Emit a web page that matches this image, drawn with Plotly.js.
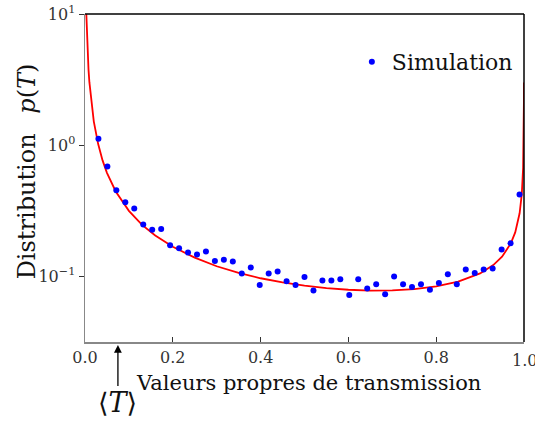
<!DOCTYPE html>
<html>
<head>
<meta charset="utf-8">
<script src="https://cdn.plot.ly/plotly-3.0.1.min.js"></script>
<style>html,body{margin:0;padding:0;background:#fff;}#chart{width:535px;height:421px;}</style>
</head>
<body>
<div id="chart"></div>
<script>
// Simulation histogram (bin centres, density)
var simT = [0.0306,0.0510,0.0714,0.0918,0.1122,0.1327,0.1531,0.1735,0.1939,0.2143,
            0.2347,0.2551,0.2755,0.2959,0.3163,0.3367,0.3571,0.3776,0.3980,0.4184,
            0.4388,0.4592,0.4796,0.5000,0.5204,0.5408,0.5612,0.5816,0.6020,0.6224,
            0.6429,0.6633,0.6837,0.7041,0.7245,0.7449,0.7653,0.7857,0.8061,0.8265,
            0.8469,0.8673,0.8878,0.9082,0.9286,0.9490,0.9694,0.9898];
var simP = [1.12,0.687,0.453,0.367,0.329,0.249,0.227,0.230,0.173,0.164,
            0.152,0.147,0.155,0.131,0.134,0.130,0.105,0.117,0.086,0.105,
            0.109,0.092,0.086,0.099,0.078,0.093,0.093,0.095,0.072,0.095,
            0.081,0.087,0.073,0.100,0.087,0.083,0.087,0.079,0.089,0.104,
            0.087,0.113,0.106,0.113,0.115,0.160,0.179,0.421];
// Theory curve
var curveT = [0.003,0.004,0.006,0.008,0.01,0.015,0.02,0.03,0.04,0.05,0.07,0.1,0.13,0.16,
              0.2,0.25,0.3,0.35,0.4,0.45,0.5,0.55,0.6,0.65,0.7,0.75,0.8,0.85,0.9,0.93,
              0.95,0.97,0.98,0.99,0.995,0.998,0.999,0.9995,0.9998,0.9999];
var curveP = [10.02,7.52,5.02,3.77,3.02,2.02,1.52,1.02,0.766,0.616,0.444,0.316,0.247,0.205,
              0.168,0.139,0.1195,0.1063,0.0968,0.0899,0.0849,0.0813,0.0791,0.0780,0.0782,0.0800,0.0839,0.0911,0.1054,0.1219,
              0.1412,0.1786,0.2165,0.303,0.426,0.672,0.950,1.342,2.122,3.0];
var xTicks = [0, 0.2, 0.4, 0.6, 0.8, 1.0];
var xTickText = ['0.0','0.2','0.4','0.6','0.8','1.0'];
var yTicks = [0.1, 1, 10];
var yTickText = ['10<sup>\u22121</sup>','10<sup>0</sup>','10<sup>1</sup>'];
var meanT = 0.075;

var serif = 'DejaVu Serif';
var nT = xTicks.length;

var traces = [
  {x: curveT, y: curveP, mode: 'lines', line: {color: '#ff0000', width: 1.8}, showlegend: false, hoverinfo: 'skip'},
  {x: simT, y: simP, mode: 'markers', name: 'Simulation', marker: {color: '#0000ff', size: 6}}
];

var layout = {
  width: 535, height: 421,
  margin: {l: 85, r: 11, t: 14, b: 79},
  paper_bgcolor: '#fff', plot_bgcolor: '#fff',
  font: {family: serif, color: '#222', size: 16},
  xaxis: {
    range: [0, 1], tickvals: xTicks,
    ticktext: xTickText.slice(0, nT - 1).concat(['']),
    ticks: 'inside', ticklen: 5, tickcolor: '#333', tickwidth: 1,
    showline: true, linecolor: '#888', linewidth: 1.5,
    showgrid: false, zeroline: false,
    tickfont: {family: serif, size: 16, color: '#333'}
  },
  yaxis: {
    type: 'log', range: [-1.5, 1], tickvals: yTicks, ticktext: yTickText,
    ticks: 'outside', ticklen: 5, tickcolor: '#333', tickwidth: 1,
    showline: true, linecolor: '#888', linewidth: 1.5,
    showgrid: false, zeroline: false,
    tickfont: {family: serif, size: 16, color: '#333'}
  },
  legend: {
    x: 0.986, xanchor: 'right', y: 0.854, yanchor: 'middle',
    bgcolor: 'rgba(0,0,0,0)', borderwidth: 0,
    font: {family: serif, size: 22, color: '#111'},
    itemwidth: 30
  },
  shapes: [
    {type: 'line', xref: 'paper', yref: 'paper', x0: 0, x1: 1, y0: 1, y1: 1, line: {color: '#000', width: 1.5}},
    {type: 'line', xref: 'paper', yref: 'paper', x0: 1, x1: 1, y0: 0, y1: 1, line: {color: '#000', width: 1.5}}
  ],
  annotations: [
    {xref: 'x', yref: 'paper', x: xTicks[nT - 1], y: -0.022, xanchor: 'center', yanchor: 'top',
     text: xTickText[nT - 1], showarrow: false,
     font: {family: serif, size: 16, color: '#333'}},
    {xref: 'paper', yref: 'paper', x: 0.51, y: -0.083, xanchor: 'center', yanchor: 'top',
     text: 'Valeurs propres de transmission', showarrow: false,
     font: {family: serif, size: 21, color: '#111'}},
    {xref: 'paper', yref: 'paper', x: -0.13, y: 0.52, xanchor: 'center', yanchor: 'middle',
     textangle: -90, text: 'Distribution\u2002 <i>p</i>(<i>T</i>)', showarrow: false,
     font: {family: serif, size: 24, color: '#111'}},
    {xref: 'x', yref: 'paper', x: meanT, y: -0.009, ax: 0, ay: 58,
     text: '\u27E8<i>T</i>\u27E9', showarrow: true, arrowhead: 2, arrowsize: 1.2, arrowwidth: 1.3,
     arrowcolor: '#000', standoff: 0, startstandoff: 0,
     font: {family: serif, size: 27, color: '#111'}}
  ]
};

Plotly.newPlot('chart', traces, layout, {displayModeBar: false, staticPlot: true});
</script>
</body>
</html>
